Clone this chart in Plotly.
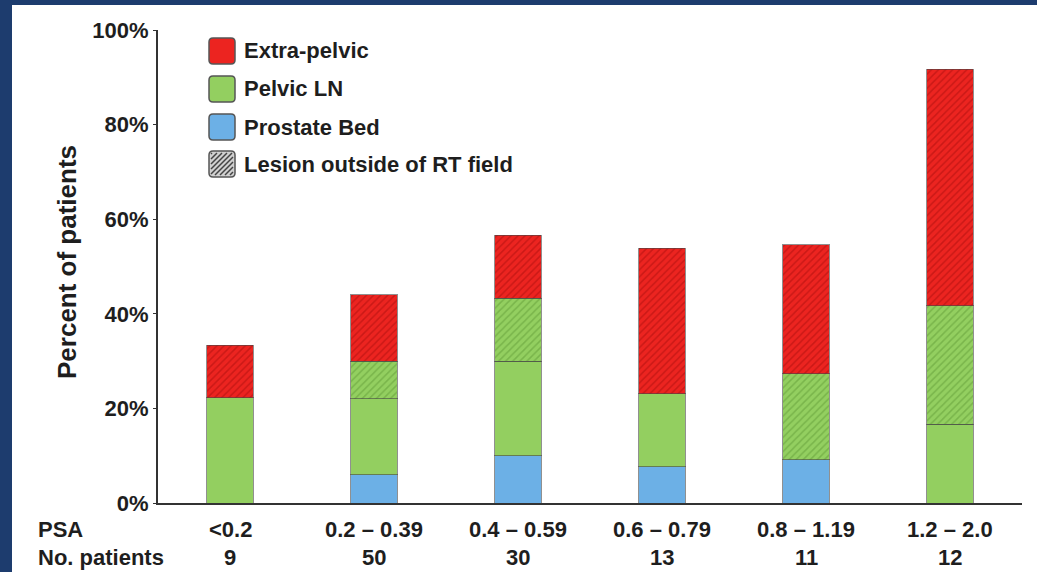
import plotly.graph_objects as go

# ---- data (percent of patients) ----
categories = ["<0.2", "0.2 – 0.39", "0.4 – 0.59", "0.6 – 0.79", "0.8 – 1.19", "1.2 – 2.0"]
n_patients = ["9", "50", "30", "13", "11", "12"]
prostate_bed = [0, 6.0, 10.0, 7.7, 9.1, 0]
pelvic_ln_inside = [22.2, 16.0, 20.0, 15.4, 0, 16.7]
pelvic_ln_outside = [0, 8.0, 13.3, 0, 18.2, 25.0]
extra_pelvic_outside = [11.1, 14.0, 13.3, 30.8, 27.3, 50.0]
y_ticks = [0, 20, 40, 60, 80, 100]
y_tick_labels = ["0%", "20%", "40%", "60%", "80%", "100%"]
legend_labels = ["Extra-pelvic", "Pelvic LN", "Prostate Bed", "Lesion outside of RT field"]

RED, RED_D = "#ec2420", "#a80e0c"
GREEN, GREEN_D = "#93cf60", "#5f9a35"
BLUE = "#6cb0e6"
FONT = "Arial, Liberation Sans, sans-serif"
TXT = "#1e1e1e"
FS = 22

W, H = 1037, 572
L, R, T, B = 158, 15, 30, 69
PW, PH = W - L - R, H - T - B

def px(x):
    return (x - L) / PW

def py(y):
    return (H - B - y) / PH

x_idx = list(range(len(categories)))
edge = dict(color="rgba(70,70,70,0.6)", width=1)

fig = go.Figure()
fig.add_bar(x=x_idx, y=prostate_bed, marker=dict(color=BLUE, line=edge), name="Prostate Bed")
fig.add_bar(x=x_idx, y=pelvic_ln_inside, marker=dict(color=GREEN, line=edge), name="Pelvic LN")
fig.add_bar(x=x_idx, y=pelvic_ln_outside,
            marker=dict(color=GREEN, line=edge,
                        pattern=dict(shape="/", fgcolor=GREEN_D, size=5, solidity=0.3)),
            name="Pelvic LN (outside RT)")
fig.add_bar(x=x_idx, y=extra_pelvic_outside,
            marker=dict(color=RED, line=edge,
                        pattern=dict(shape="/", fgcolor=RED_D, size=5, solidity=0.3)),
            name="Extra-pelvic")

fig.update_layout(
    width=W, height=H, barmode="stack", bargap=0.68,
    margin=dict(l=L, r=R, t=T, b=B),
    paper_bgcolor="white", plot_bgcolor="white",
    showlegend=False,
    font=dict(family=FONT, color=TXT),
)
fig.update_xaxes(range=[-0.5, 5.5], showticklabels=False, showgrid=False, zeroline=False,
                 showline=True, linecolor="#333", linewidth=2, ticks="")
fig.update_yaxes(range=[0, 100], tickvals=y_ticks, ticktext=[f"<b>{t}</b>" for t in y_tick_labels],
                 tickfont=dict(size=FS, family=FONT, color=TXT),
                 showgrid=False, zeroline=False, showline=True, linecolor="#333",
                 linewidth=2, ticks="outside", ticklen=3, tickcolor="#333")

shapes = []
annotations = []
# dark blue frame (left and top)
shapes.append(dict(type="rect", xref="paper", yref="paper", x0=px(0), x1=px(12), y0=py(H), y1=py(0),
                   fillcolor="#1d3c6e", line=dict(width=0), layer="above"))
shapes.append(dict(type="rect", xref="paper", yref="paper", x0=px(0), x1=px(W), y0=py(5), y1=py(0),
                   fillcolor="#1d3c6e", line=dict(width=0), layer="above"))

# legend
leg_colors = [RED, GREEN, BLUE, "#d0d0d0"]
row_centers = [51, 89, 127, 164]
sx0, sx1, half = 209, 235, 13
r = 4
for lab, col, cy in zip(legend_labels, leg_colors, row_centers):
    x0, x1, y0, y1 = sx0, sx1, cy - half, cy + half
    path = (f"M {px(x0 + r)} {py(y0)} L {px(x1 - r)} {py(y0)} Q {px(x1)} {py(y0)} {px(x1)} {py(y0 + r)} "
            f"L {px(x1)} {py(y1 - r)} Q {px(x1)} {py(y1)} {px(x1 - r)} {py(y1)} "
            f"L {px(x0 + r)} {py(y1)} Q {px(x0)} {py(y1)} {px(x0)} {py(y1 - r)} "
            f"L {px(x0)} {py(y0 + r)} Q {px(x0)} {py(y0)} {px(x0 + r)} {py(y0)} Z")
    shapes.append(dict(type="path", xref="paper", yref="paper", path=path,
                       fillcolor=col, line=dict(color="#555", width=1.5), layer="above"))
    if lab.startswith("Lesion"):
        segs = []
        step = 5
        for k in range(-26, 27, step):
            xa, ya = x0 + 2 + k, y1 - 2
            xb, yb = x0 + 2 + k + (y1 - y0 - 4), y0 + 2
            if xa < x0 + 2:
                ya -= (x0 + 2 - xa); xa = x0 + 2
            if xb > x1 - 2:
                yb += (xb - (x1 - 2)); xb = x1 - 2
            if xa < xb and ya > yb:
                segs.append(f"M {px(xa)} {py(ya)} L {px(xb)} {py(yb)}")
        shapes.append(dict(type="path", xref="paper", yref="paper", path=" ".join(segs),
                           line=dict(color="#444", width=1.5), layer="above"))
    annotations.append(dict(text=f"<b>{lab}</b>", xref="paper", yref="paper", x=px(242), y=py(cy),
                            xanchor="left", yanchor="middle", showarrow=False,
                            font=dict(size=FS, family=FONT, color=TXT)))

# y axis title
annotations.append(dict(text="<b>Percent of patients</b>", xref="paper", yref="paper",
                        x=px(67), y=py(262), textangle=-90, showarrow=False,
                        xanchor="center", yanchor="middle",
                        font=dict(size=26, family=FONT, color=TXT)))

# table below axis
annotations.append(dict(text="<b>PSA</b>", xref="paper", yref="paper", x=px(36), y=py(529),
                        xanchor="left", yanchor="middle", showarrow=False,
                        font=dict(size=FS, family=FONT, color=TXT)))
annotations.append(dict(text="<b>No. patients</b>", xref="paper", yref="paper", x=px(36), y=py(557),
                        xanchor="left", yanchor="middle", showarrow=False,
                        font=dict(size=FS, family=FONT, color=TXT)))
for i, (c, n) in enumerate(zip(categories, n_patients)):
    annotations.append(dict(text=f"<b>{c}</b>", xref="x", yref="paper", x=i, y=py(529),
                            xanchor="center", yanchor="middle", showarrow=False,
                            font=dict(size=FS, family=FONT, color=TXT)))
    annotations.append(dict(text=f"<b>{n}</b>", xref="x", yref="paper", x=i, y=py(557),
                            xanchor="center", yanchor="middle", showarrow=False,
                            font=dict(size=FS, family=FONT, color=TXT)))

fig.update_layout(shapes=shapes, annotations=annotations)
fig.write_html("out.html", config={"displayModeBar": False},
               post_script="document.body.style.margin='0';document.body.style.overflow='hidden';")
